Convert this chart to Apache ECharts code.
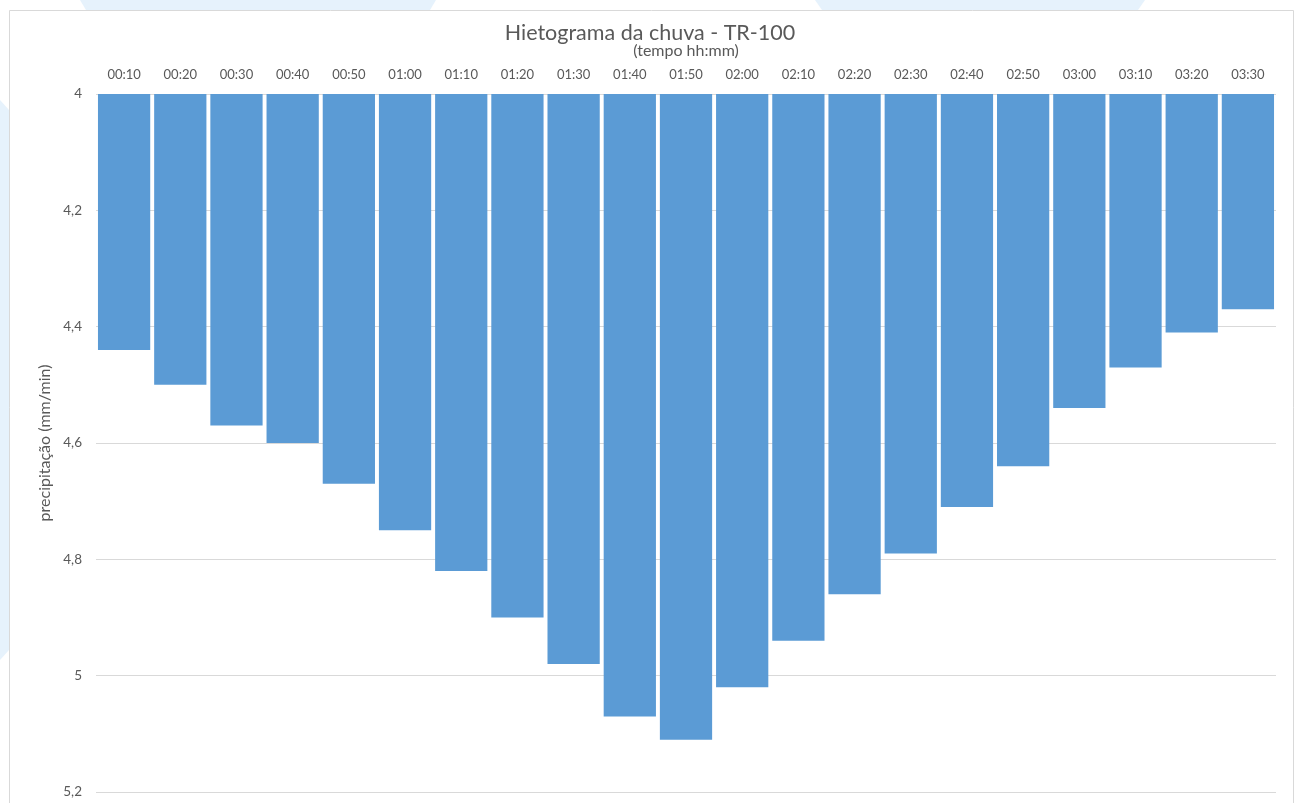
<!DOCTYPE html>
<html>
<head>
<meta charset="utf-8">
<script src="https://cdn.jsdelivr.net/npm/echarts@6/dist/echarts.min.js"></script>
<style>
html,body{margin:0;padding:0;background:#fff;}
#chart{width:1300px;height:803px;}
</style>
</head>
<body>
<div id="chart"></div>
<script>
const categories = ['00:10','00:20','00:30','00:40','00:50','01:00','01:10','01:20','01:30','01:40','01:50','02:00','02:10','02:20','02:30','02:40','02:50','03:00','03:10','03:20','03:30'];
const precipitation = [4.44,4.50,4.57,4.60,4.67,4.75,4.82,4.90,4.98,5.07,5.11,5.02,4.94,4.86,4.79,4.71,4.64,4.54,4.47,4.41,4.37];
const yMin = 4, yMax = 5.2, yStep = 0.2;
const titleText = 'Hietograma da chuva - TR-100';
const xName = '(tempo hh:mm)';
const yName = 'precipitação (mm/min)';

const FONT = 'Lato, "Open Sans", sans-serif';
const TXT = '#595959';
const chart = echarts.init(document.getElementById('chart'));
chart.setOption({
  backgroundColor: '#ffffff',
  animation: false,
  textStyle: {fontFamily: FONT},
  graphic: [
    {type:'polygon', z:-10, silent:true, shape:{points:[[80,0],[436,0],[430,10],[86,10]]}, style:{fill:'#e6f2fc'}},
    {type:'polygon', z:-10, silent:true, shape:{points:[[815,0],[1145,0],[1138,10],[822,10]]}, style:{fill:'#e6f2fc'}},
    {type:'polygon', z:-10, silent:true, shape:{points:[[0,100],[9,110],[9,650],[0,660]]}, style:{fill:'#e6f2fc'}},
    {type:'rect', z:-5, silent:true, shape:{x:9.5,y:10.5,width:1284,height:800}, style:{fill:'#ffffff', stroke:'#d9d9d9', lineWidth:1}}
  ],
  title: {
    text: titleText,
    left: 'center',
    top: 17,
    textStyle: {fontFamily: FONT, fontSize: 21.5, fontWeight: 'normal', color: TXT}
  },
  grid: {left: 96, right: 24, top: 94, bottom: 11, containLabel: false},
  xAxis: {
    type: 'category',
    data: categories,
    position: 'top',
    name: xName,
    nameLocation: 'middle',
    nameGap: 35,
    nameTextStyle: {fontFamily: FONT, fontSize: 16, color: TXT},
    axisLine: {show: false},
    axisTick: {show: false},
    axisLabel: {fontFamily: FONT, fontSize: 13, color: TXT, margin: 13, interval: 0}
  },
  yAxis: {
    type: 'value',
    inverse: true,
    min: yMin,
    max: yMax,
    interval: yStep,
    startValue: yMin,
    name: yName,
    nameLocation: 'middle',
    nameGap: 42,
    nameRotate: 90,
    nameTextStyle: {fontFamily: FONT, fontSize: 16, color: TXT},
    axisLine: {show: false},
    axisTick: {show: false},
    axisLabel: {
      fontFamily: FONT, fontSize: 13.5, color: TXT, margin: 14,
      formatter: v => String(+v.toFixed(1)).replace('.', ',')
    },
    splitLine: {lineStyle: {color: '#d9d9d9', width: 1}}
  },
  series: [{
    type: 'bar',
    data: precipitation,
    barCategoryGap: '7%',
    itemStyle: {color: '#5b9bd5'}
  }]
});
</script>
</body>
</html>
